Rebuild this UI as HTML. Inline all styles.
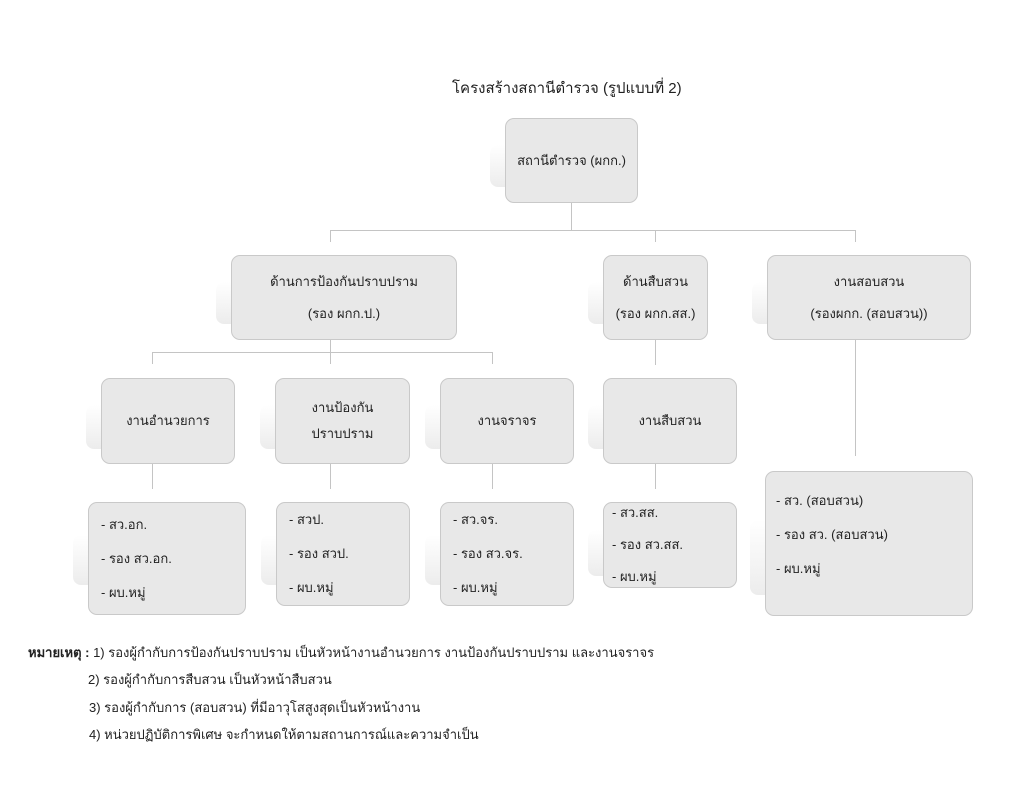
<!DOCTYPE html>
<html><head><meta charset="utf-8"><style>
body{margin:0;width:1024px;height:791px;background:#fff;position:relative;overflow:hidden;font-family:"Liberation Sans","DejaVu Sans","Noto Sans CJK SC",sans-serif;color:#222;font-size:13px}
.b{position:absolute;background:#e8e8e8;border:1px solid #c9c9c9;border-radius:9px;box-sizing:border-box;display:flex;flex-direction:column;justify-content:center;align-items:center;text-align:center;line-height:26px;z-index:2}
.s{position:absolute;border-radius:8px;background:linear-gradient(#fff,#ececec);z-index:1}
.l{position:absolute;background:#c4c4c4;z-index:0}
.b.left{align-items:flex-start;text-align:left;padding-left:12px;line-height:30px}
.t{position:absolute;white-space:nowrap}
</style></head><body>
<div class="t" style="left:452px;top:76px;font-size:15px">โครงสร้างสถานีตำรวจ (รูปแบบที่ 2)</div>

<!-- lines -->
<div class="l" style="left:571px;top:203px;width:1px;height:27px"></div>
<div class="l" style="left:330px;top:230px;width:525px;height:1px"></div>
<div class="l" style="left:330px;top:230px;width:1px;height:12px"></div>
<div class="l" style="left:655px;top:230px;width:1px;height:12px"></div>
<div class="l" style="left:855px;top:230px;width:1px;height:12px"></div>
<div class="l" style="left:330px;top:340px;width:1px;height:24px"></div>
<div class="l" style="left:152px;top:352px;width:340px;height:1px"></div>
<div class="l" style="left:152px;top:352px;width:1px;height:12px"></div>
<div class="l" style="left:492px;top:352px;width:1px;height:12px"></div>
<div class="l" style="left:655px;top:340px;width:1px;height:25px"></div>
<div class="l" style="left:855px;top:340px;width:1px;height:116px"></div>
<div class="l" style="left:152px;top:463px;width:1px;height:26px"></div>
<div class="l" style="left:330px;top:463px;width:1px;height:26px"></div>
<div class="l" style="left:492px;top:463px;width:1px;height:26px"></div>
<div class="l" style="left:655px;top:463px;width:1px;height:26px"></div>

<!-- shadows -->
<div class="s" style="left:490px;top:145px;width:130px;height:42px"></div>
<div class="s" style="left:216px;top:282px;width:210px;height:42px"></div>
<div class="s" style="left:588px;top:282px;width:100px;height:42px"></div>
<div class="s" style="left:752px;top:282px;width:190px;height:42px"></div>
<div class="s" style="left:86px;top:405px;width:130px;height:44px"></div>
<div class="s" style="left:260px;top:405px;width:130px;height:44px"></div>
<div class="s" style="left:425px;top:405px;width:130px;height:44px"></div>
<div class="s" style="left:588px;top:405px;width:130px;height:44px"></div>
<div class="s" style="left:73px;top:535px;width:140px;height:50px"></div>
<div class="s" style="left:261px;top:535px;width:125px;height:50px"></div>
<div class="s" style="left:425px;top:535px;width:125px;height:50px"></div>
<div class="s" style="left:588px;top:530px;width:125px;height:46px"></div>
<div class="s" style="left:750px;top:520px;width:195px;height:75px"></div>

<!-- boxes -->
<div class="b" style="left:505px;top:118px;width:133px;height:85px">สถานีตำรวจ (ผกก.)</div>
<div class="b" style="left:231px;top:255px;width:226px;height:85px;line-height:32px">ด้านการป้องกันปราบปราม<br>(รอง ผกก.ป.)</div>
<div class="b" style="left:603px;top:255px;width:105px;height:85px;line-height:32px">ด้านสืบสวน<br>(รอง ผกก.สส.)</div>
<div class="b" style="left:767px;top:255px;width:204px;height:85px;line-height:32px">งานสอบสวน<br>(รองผกก. (สอบสวน))</div>
<div class="b" style="left:101px;top:378px;width:134px;height:86px">งานอำนวยการ</div>
<div class="b" style="left:275px;top:378px;width:135px;height:86px">งานป้องกัน<br>ปราบปราม</div>
<div class="b" style="left:440px;top:378px;width:134px;height:86px">งานจราจร</div>
<div class="b" style="left:603px;top:378px;width:134px;height:86px">งานสืบสวน</div>
<div class="b left" style="left:88px;top:502px;width:158px;height:113px;line-height:34px">- สว.อก.<br>- รอง สว.อก.<br>- ผบ.หมู่</div>
<div class="b left" style="left:276px;top:502px;width:134px;height:104px;line-height:34px">- สวป.<br>- รอง สวป.<br>- ผบ.หมู่</div>
<div class="b left" style="left:440px;top:502px;width:134px;height:104px;line-height:34px">- สว.จร.<br>- รอง สว.จร.<br>- ผบ.หมู่</div>
<div class="b left" style="left:603px;top:502px;width:134px;height:86px;padding-left:8px;line-height:32px">- สว.สส.<br>- รอง สว.สส.<br>- ผบ.หมู่</div>
<div class="b left" style="left:765px;top:471px;width:208px;height:145px;line-height:34px;padding-left:10px;padding-bottom:18px">- สว. (สอบสวน)<br>- รอง สว. (สอบสวน)<br>- ผบ.หมู่</div>

<!-- notes -->
<div class="t" style="left:28px;top:642px"><b>หมายเหตุ :</b> 1) รองผู้กำกับการป้องกันปราบปราม เป็นหัวหน้างานอำนวยการ งานป้องกันปราบปราม และงานจราจร</div>
<div class="t" style="left:88px;top:669px">2) รองผู้กำกับการสืบสวน เป็นหัวหน้าสืบสวน</div>
<div class="t" style="left:89px;top:697px">3) รองผู้กำกับการ (สอบสวน) ที่มีอาวุโสสูงสุดเป็นหัวหน้างาน</div>
<div class="t" style="left:89px;top:724px">4) หน่วยปฏิบัติการพิเศษ จะกำหนดให้ตามสถานการณ์และความจำเป็น</div>
</body></html>
